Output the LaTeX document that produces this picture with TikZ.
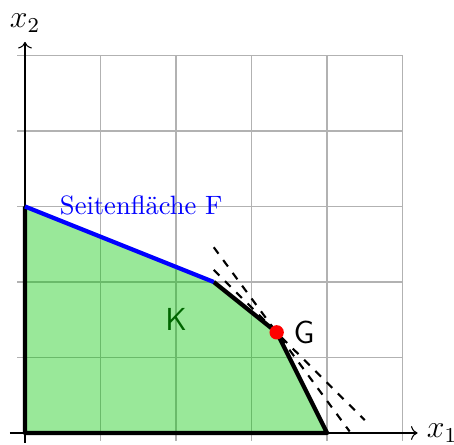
\documentclass[tikz,border=0pt]{standalone}
\usepackage{tikz}
\usetikzlibrary{arrows.meta, positioning, calc}
\definecolor{kgreen}{RGB}{0,198,0}
\tikzset{
  grid_style/.style={gray!60, thin},
  axis_style/.style={->, black},
  axis_label/.style={font=\large},
  region_fill/.style={fill=kgreen, fill opacity=0.4},
  edge_black/.style={ultra thick, black, line join=round},
  edge_blue/.style={ultra thick, blue},
  support_line/.style={dashed, thick, black},
  point_dot/.style={circle, fill=red, inner sep=0pt, minimum size=0.19cm},
  face_label/.style={text=blue},
  set_label/.style={text=green!40!black, font=\large\sffamily},
  point_label/.style={font=\large\sffamily}
}

\begin{document}
\begin{tikzpicture}
    % Fixed frame so the margins match
    \useasboundingbox (-0.331,-0.159) rectangle (5.682,5.735);

    % Grid in the back
    \draw[grid_style] (-0.1,-0.1) grid (5,5);

    % Corners of the region K
    \coordinate (p0) at (0,0);
    \coordinate (p1) at (0,3);
    \coordinate (p2) at (2.5,2);
    \coordinate (p3) at (10/3,4/3);
    \coordinate (p4) at (4,0);

    \fill[region_fill] (p0) -- (p1) -- (p2) -- (p3) -- (p4) -- cycle;

    % Axes with their labels
    \coordinate (x_start) at (-0.2,0);
    \coordinate (x_end) at (5.2,0);
    \coordinate (y_start) at (0,-0.13);
    \coordinate (y_end) at (0,5.18);
    \draw[axis_style] (x_start) -- (x_end);
    \draw[axis_style] (y_start) -- (y_end);
    \node[axis_label, right=0pt of x_end] (x_label) {$x_1$};
    \node[axis_label, above=0pt of y_end] (y_label) {$x_2$};

    % Supporting lines through the vertex
    \coordinate (s1_top) at (2.5,2.46);
    \coordinate (s1_bot) at (4.3,0.02);
    \coordinate (s2_top) at (2.5,2.16);
    \coordinate (s2_bot) at (4.5,0.17);
    \draw[support_line] (s1_top) -- (s1_bot);
    \draw[support_line] (s2_top) -- (s2_bot);

    % Border of K, the face F in blue
    \draw[edge_black] (p1) -- (p0) -- (p4) -- (p3) -- (p2);
    \draw[edge_blue] (p1) -- (p2);

    % Vertex G and the labels
    \node[point_dot] (g_point) at (p3) {};
    \node[point_label, right=0pt of g_point] (g_label) {G};
    \node[set_label] (k_label) at (2,1.5) {K};
    \node[face_label] (f_label) at (1.54,3.02) {Seitenfläche F};
\end{tikzpicture}
\end{document}
